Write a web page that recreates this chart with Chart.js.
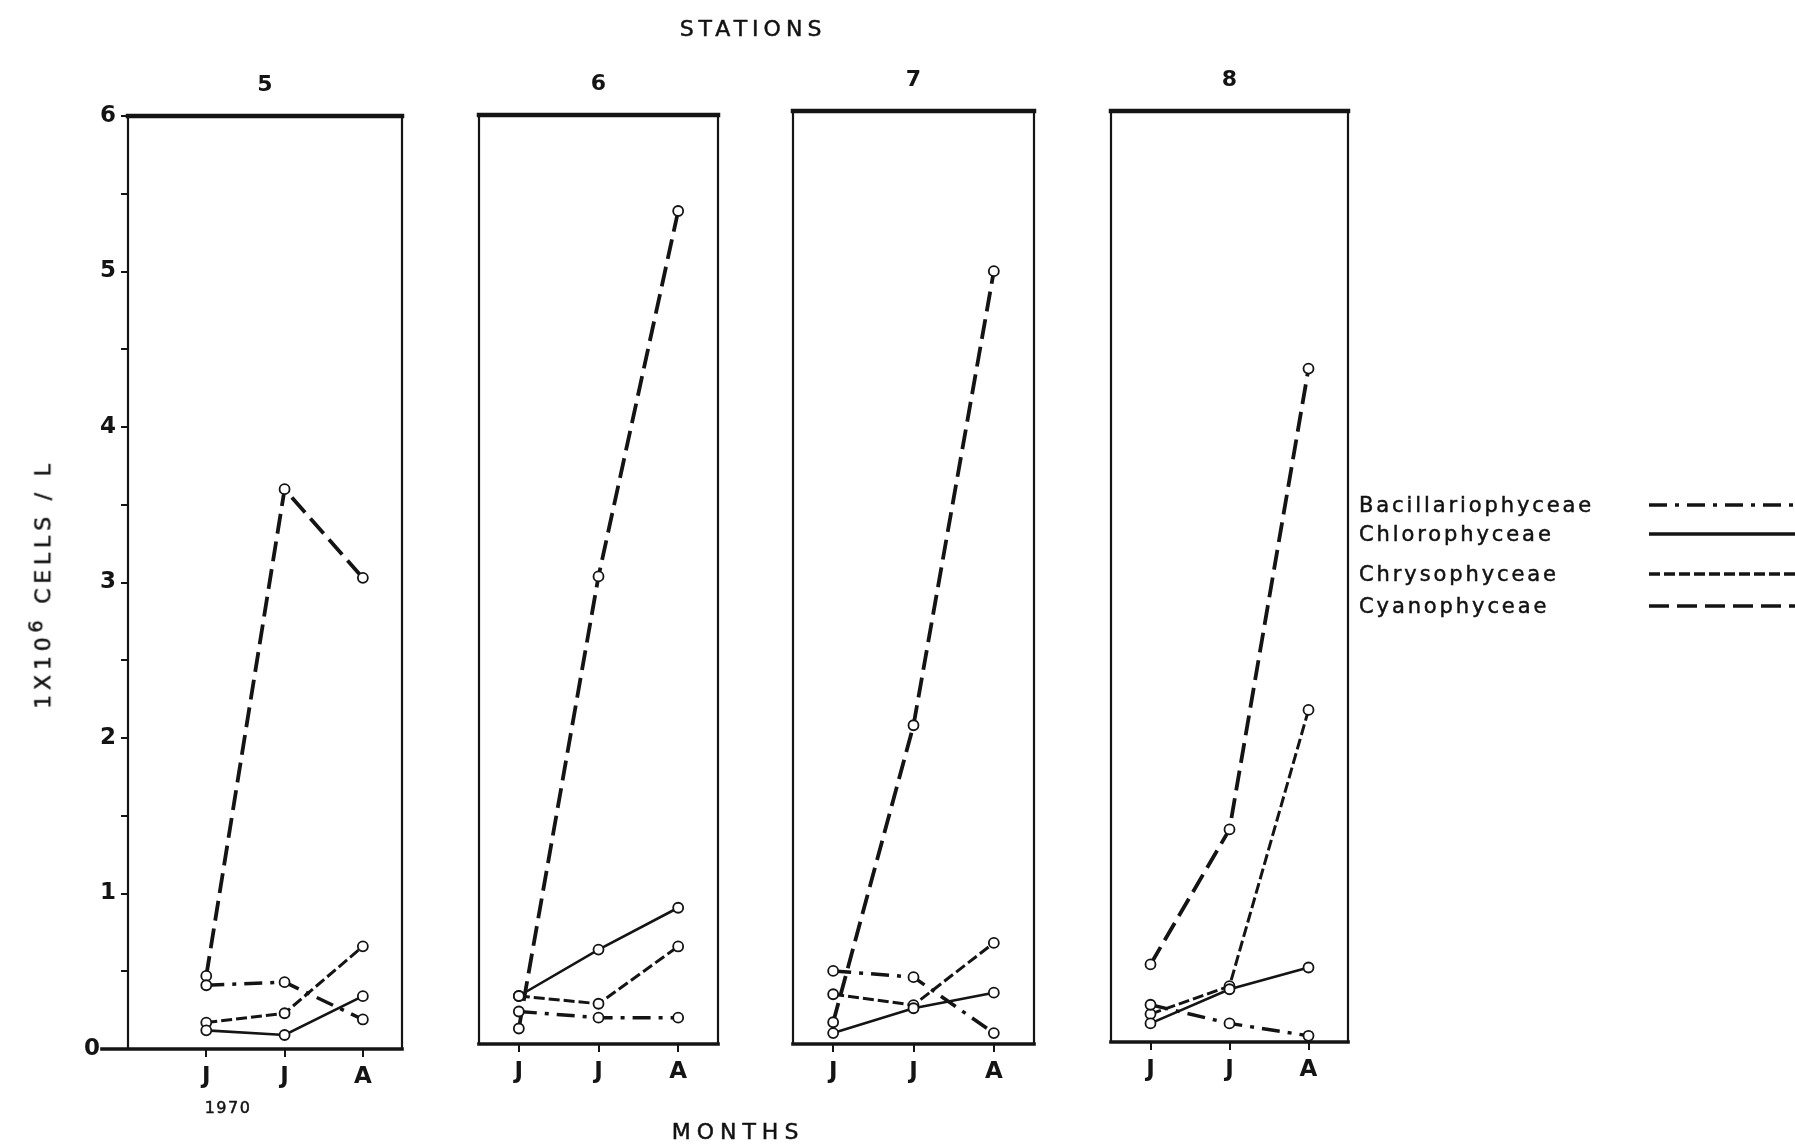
<!DOCTYPE html>
<html><head><meta charset="utf-8">
<script src="https://cdn.jsdelivr.net/npm/chart.js@4.4.1/dist/chart.umd.min.js"></script>
<style>
html,body{margin:0;padding:0;background:#fff;}
#wrap{position:relative;width:1795px;height:1145px;overflow:hidden;font-family:"DejaVu Sans",sans-serif;color:#111;}
canvas.panel{position:absolute;left:0;top:0;}
.txt{position:absolute;white-space:nowrap;transform:translate(-50%,-50%);-webkit-text-stroke:0.5px #141414;}
.leg{position:absolute;left:1359px;font-size:21px;letter-spacing:2.9px;white-space:nowrap;transform:translateY(-50%);-webkit-text-stroke:0.5px #141414;}
svg.legline{position:absolute;left:1649px;width:146px;height:10px;transform:translateY(-50%);}
</style></head><body>
<div id="wrap">
<canvas id="p0" class="panel" width="1795" height="1145"></canvas>
<canvas id="p1" class="panel" width="1795" height="1145"></canvas>
<canvas id="p2" class="panel" width="1795" height="1145"></canvas>
<canvas id="p3" class="panel" width="1795" height="1145"></canvas>
<div class="txt" style="left:753px;top:28px;font-size:22px;letter-spacing:5px;">STATIONS</div>
<div class="txt" style="left:738px;top:1131px;font-size:22px;letter-spacing:6px;">MONTHS</div>
<div class="txt" style="left:228px;top:1107px;font-size:16px;letter-spacing:1.5px;">1970</div>
<div class="txt" style="left:40px;top:584px;font-size:22px;letter-spacing:4.8px;transform:translate(-50%,-50%) rotate(-90deg);">1X10<sup style="font-size:19px">6</sup> CELLS / L</div>
<div id="legend"></div>
</div>
<script>
// ---- data ----
const months = ['J', 'J', 'A'];
const stations = ['5', '6', '7', '8'];
const seriesNames = ['Bacillariophyceae', 'Chlorophyceae', 'Chrysophyceae', 'Cyanophyceae'];
const bacillariophyceae = [[0.41, 0.43, 0.19], [0.21, 0.17, 0.17], [0.47, 0.43, 0.07], [0.24, 0.12, 0.04]];
const chlorophyceae     = [[0.12, 0.09, 0.34], [0.31, 0.61, 0.88], [0.07, 0.23, 0.33], [0.12, 0.34, 0.48]];
const chrysophyceae     = [[0.17, 0.23, 0.66], [0.31, 0.26, 0.63], [0.32, 0.25, 0.65], [0.18, 0.36, 2.14]];
const cyanophyceae      = [[0.47, 3.60, 3.03], [0.10, 3.02, 5.38], [0.14, 2.05, 4.97], [0.50, 1.37, 4.34]];
const yTickValues = [0, 1, 2, 3, 4, 5, 6];

// ---- styles / layout ----
const seriesData = [bacillariophyceae, chlorophyceae, chrysophyceae, cyanophyceae];
const seriesDash = [[18, 8, 4, 8], [], [11, 4], [20, 8]];
const seriesWidth = [3.5, 2.6, 3, 3.8];
const INK = '#141414';
const W = 1795, H = 1145;
const panelBoxes = [
  {l: 128, r: 402, t: 116, b: 1049, xMin: -1, showY: true},
  {l: 479, r: 718, t: 115, b: 1044, xMin: -0.5, showY: false},
  {l: 793, r: 1034, t: 111, b: 1044, xMin: -0.5, showY: false},
  {l: 1111, r: 1348, t: 111, b: 1042, xMin: -0.5, showY: false}
];
const Y_AXIS_W = 60;

const panelDecor = {
  id: 'panelDecor',
  beforeDatasetsDraw(chart, args, opts) {
    const {ctx, chartArea: a} = chart;
    ctx.save();
    ctx.strokeStyle = INK;
    ctx.lineCap = 'square';
    const seg = (x1, y1, x2, y2, w) => { ctx.lineWidth = w; ctx.beginPath(); ctx.moveTo(x1, y1); ctx.lineTo(x2, y2); ctx.stroke(); };
    seg(a.left, a.top, a.right, a.top, 4.5);
    seg(a.left, a.top, a.left, a.bottom, 2.2);
    seg(a.right, a.top, a.right, a.bottom, 2.2);
    seg(a.left - (opts.extendLeft || 0), a.bottom, a.right, a.bottom, 3.6);
    ctx.restore();
  },
  afterDraw(chart, args, opts) {
    const {ctx, chartArea: a} = chart;
    ctx.save();
    ctx.fillStyle = INK;
    ctx.font = 'bold 22px "DejaVu Sans"';
    ctx.textAlign = 'center';
    ctx.textBaseline = 'middle';
    ctx.fillText(opts.title, (a.left + a.right) / 2, a.top - 31);
    ctx.restore();
  }
};

panelBoxes.forEach((box, i) => {
  const datasets = seriesNames.map((name, s) => ({
    label: name,
    data: seriesData[s][i].map((v, j) => ({x: j, y: v})),
    borderColor: INK,
    borderWidth: seriesWidth[s],
    borderDash: seriesDash[s],
    backgroundColor: '#fff',
    pointRadius: 5,
    pointBorderWidth: 1.8,
    pointBorderColor: INK,
    pointBackgroundColor: '#fff',
    tension: 0,
    fill: false
  }));
  new Chart(document.getElementById('p' + i), {
    type: 'line',
    data: {datasets},
    options: {
      responsive: false,
      animation: false,
      events: [],
      layout: {padding: {left: box.showY ? box.l - Y_AXIS_W : box.l, right: W - box.r, top: box.t, bottom: 0}},
      plugins: {
        legend: {display: false},
        tooltip: {enabled: false},
        title: {display: false},
        panelDecor: {title: stations[i], extendLeft: box.showY ? 26 : 0}
      },
      scales: {
        x: {
          type: 'linear', min: box.xMin, max: 2.5,
          afterBuildTicks: s => { s.ticks = months.map((m, j) => ({value: j})); },
          afterFit: s => { s.height = H - box.b; },
          ticks: {callback: v => months[v], font: {family: 'DejaVu Sans', size: 23, weight: 'bold'}, color: INK, padding: 6, maxRotation: 0, autoSkip: false},
          grid: {drawOnChartArea: false, drawTicks: true, tickLength: 8, lineWidth: 2, color: INK},
          border: {display: false}
        },
        y: {
          display: box.showY,
          min: 0, max: 6,
          afterBuildTicks: s => { s.ticks = []; yTickValues.forEach(v => { s.ticks.push({value: v}); if (v < 6) s.ticks.push({value: v + 0.5}); }); },
          afterFit: s => { if (box.showY) s.width = Y_AXIS_W; },
          ticks: {callback: v => (v === 0 ? '0  ' : (yTickValues.includes(v) ? String(v) : '')), font: {family: 'DejaVu Sans', size: 23, weight: 'bold'}, color: INK, padding: 5, autoSkip: false},
          grid: {drawOnChartArea: false, drawTicks: true, tickLength: 7, lineWidth: 2, color: INK},
          border: {display: false}
        }
      }
    },
    plugins: [panelDecor]
  });
});

// ---- legend (HTML text + SVG line samples) ----
const legendRows = [505, 534, 574, 606];
const legend = document.getElementById('legend');
seriesNames.forEach((name, s) => {
  const t = document.createElement('div');
  t.className = 'leg';
  t.style.top = legendRows[s] + 'px';
  t.textContent = name;
  legend.appendChild(t);
  const svgNS = 'http://www.w3.org/2000/svg';
  const svg = document.createElementNS(svgNS, 'svg');
  svg.setAttribute('class', 'legline');
  svg.style.top = legendRows[s] + 'px';
  const ln = document.createElementNS(svgNS, 'line');
  ln.setAttribute('x1', 0); ln.setAttribute('y1', 5); ln.setAttribute('x2', 146); ln.setAttribute('y2', 5);
  ln.setAttribute('stroke', INK);
  ln.setAttribute('stroke-width', 3.6);
  if (seriesDash[s].length) ln.setAttribute('stroke-dasharray', seriesDash[s].join(' '));
  svg.appendChild(ln);
  legend.appendChild(svg);
});
</script>
</body></html>
